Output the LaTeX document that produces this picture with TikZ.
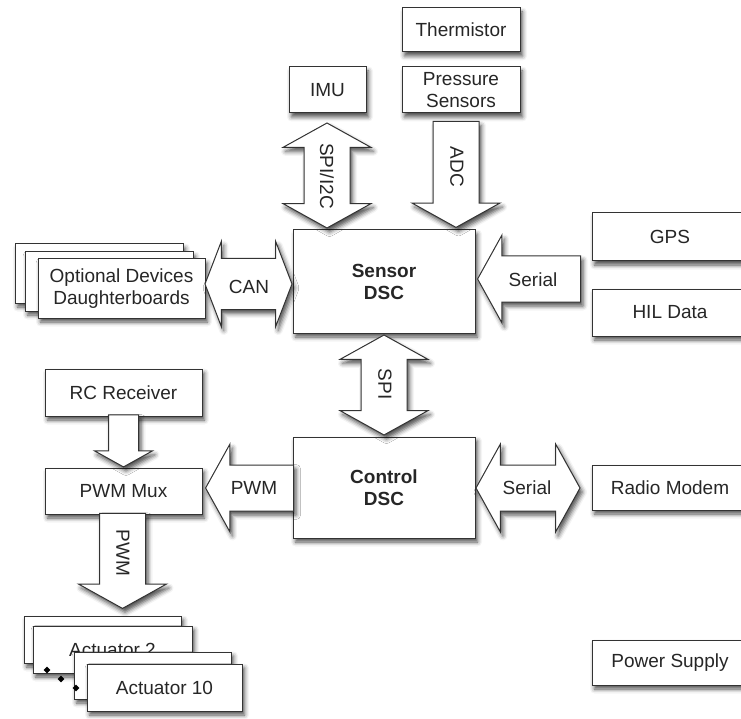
\documentclass[tikz,border=0pt]{standalone}
\usepackage{fontspec}
\setmainfont{Liberation Sans}
\usetikzlibrary{shapes.arrows,shapes.geometric,shadows.blur}

\newcommand{\blocktext}{\fontsize{19}{22}\selectfont}

\tikzset{
  softshadow/.style={blur shadow={shadow xshift=2.5pt, shadow yshift=-4pt, shadow blur radius=4.5pt, shadow opacity=70}},
  block/.style={draw=black!80, line width=1pt, fill=white, softshadow, align=center, inner sep=0pt, font=\blocktext, text=black!85},
  sglarrow/.style={single arrow, draw=black!80, line width=1pt, fill=white, softshadow, inner xsep=0pt, inner ysep=22.5pt,
    single arrow head extend=21pt, single arrow tip angle=122},
  dblarrow/.style={double arrow, draw=black!80, line width=1pt, fill=white, softshadow, inner xsep=0pt, inner ysep=22.5pt,
    double arrow head extend=21pt, double arrow tip angle=122},
  lbl/.style={font=\blocktext, text=black!85, inner sep=0pt},
  dot/.style={diamond, fill=black, inner sep=0pt, minimum size=7pt}
}

\begin{document}
\begin{tikzpicture}[x=1pt, y=-1pt]
  \clip (0,0) rectangle (741,719);

  % sensors
  \node[block, minimum width=118pt, minimum height=44pt] (therm) at (461,30) {Thermistor};
  \node[block, minimum width=118pt, minimum height=46pt] (press) at (461,90) {Pressure\\Sensors};
  \node[block, minimum width=77pt, minimum height=46pt] (imu) at (327.5,90) {IMU};

  % the two DSCs
  \node[block, minimum width=182pt, minimum height=103pt, font=\blocktext\bfseries] (sensor) at (384,281.5) {Sensor\\DSC};
  \node[block, minimum width=182pt, minimum height=101pt, font=\blocktext\bfseries] (control) at (384,487.5) {Control\\DSC};

  % right column
  \node[block, minimum width=156pt, minimum height=48pt] (gps) at (670,237) {GPS};
  \node[block, minimum width=156pt, minimum height=47pt] (hil) at (670,312.5) {HIL Data};
  \node[block, minimum width=156pt, minimum height=45pt] (radio) at (670,487.5) {Radio Modem};
  \node[block, minimum width=156pt, minimum height=45pt] (power) at (670,662.5) {Power Supply};

  % daughterboards stack
  \node[block, minimum width=168pt, minimum height=59pt] (opt3) at (99,273.5) {};
  \node[block, minimum width=168pt, minimum height=59pt] (opt2) at (109,281.5) {};
  \node[block, minimum width=167pt, minimum height=59pt] (opt1) at (121.5,288.5) {Optional Devices\\Daughterboards};

  % left column
  \node[block, minimum width=157pt, minimum height=47pt] (rc) at (123.5,392.5) {RC Receiver};
  \node[block, minimum width=157pt, minimum height=46pt] (mux) at (123.5,491) {PWM Mux};

  % actuators
  \node[block, minimum width=157pt, minimum height=47pt] (act2b) at (102.5,639.5) {};
  \node[block, minimum width=159pt, minimum height=47pt] (act2) at (112.5,649.5) {Actuator 2};
  \node[dot] (d1) at (47,670) {};
  \node[dot] (d2) at (61,679) {};
  \node[block, minimum width=157pt, minimum height=47pt] (act10b) at (152.5,675.5) {};
  \node[dot] (d3) at (76,688) {};
  \node[block, minimum width=155pt, minimum height=47pt] (act10) at (164.5,687.5) {Actuator 10};

  % buses
  \node[dblarrow, rotate=90, minimum height=105pt] (i2c) at (327,175.5) {};
  \node[lbl, rotate=-90] (i2clbl) at (327,176) {SPI/I2C};
  \node[sglarrow, rotate=-90, minimum height=106pt, anchor=tip] (adc) at (456,228) {};
  \node[lbl, rotate=-90] (adclbl) at (457,167) {ADC};
  \node[dblarrow, minimum height=87pt, inner ysep=25pt, double arrow head extend=17pt, double arrow tip angle=138] (can) at (248.5,284) {};
  \node[lbl] (canlbl) at (249,287) {CAN};
  \node[sglarrow, rotate=180, minimum height=103pt, anchor=tip] (ser1) at (477,279) {};
  \node[lbl] (ser1lbl) at (533,280) {Serial};
  \node[dblarrow, rotate=90, minimum height=100pt] (spi) at (384,385) {};
  \node[lbl, rotate=-90] (spilbl) at (385,384) {SPI};
  \node[sglarrow, rotate=180, minimum height=88pt, anchor=tip] (pwm1) at (205,488) {};
  \node[lbl] (pwm1lbl) at (254,488) {PWM};
  \node[dblarrow, minimum height=104pt] (ser2) at (528,488) {};
  \node[lbl] (ser2lbl) at (527,488) {Serial};
  \node[sglarrow, rotate=-90, minimum height=52pt, inner ysep=14.5pt, single arrow head extend=14pt, anchor=tip] (rc2mux) at (mux.north) {};
  \node[sglarrow, rotate=-90, minimum height=95pt, anchor=tip] (pwm2) at (122.5,609) {};
  \node[lbl, rotate=-90] (pwm2lbl) at (123,553) {PWM};
\end{tikzpicture}
\end{document}
